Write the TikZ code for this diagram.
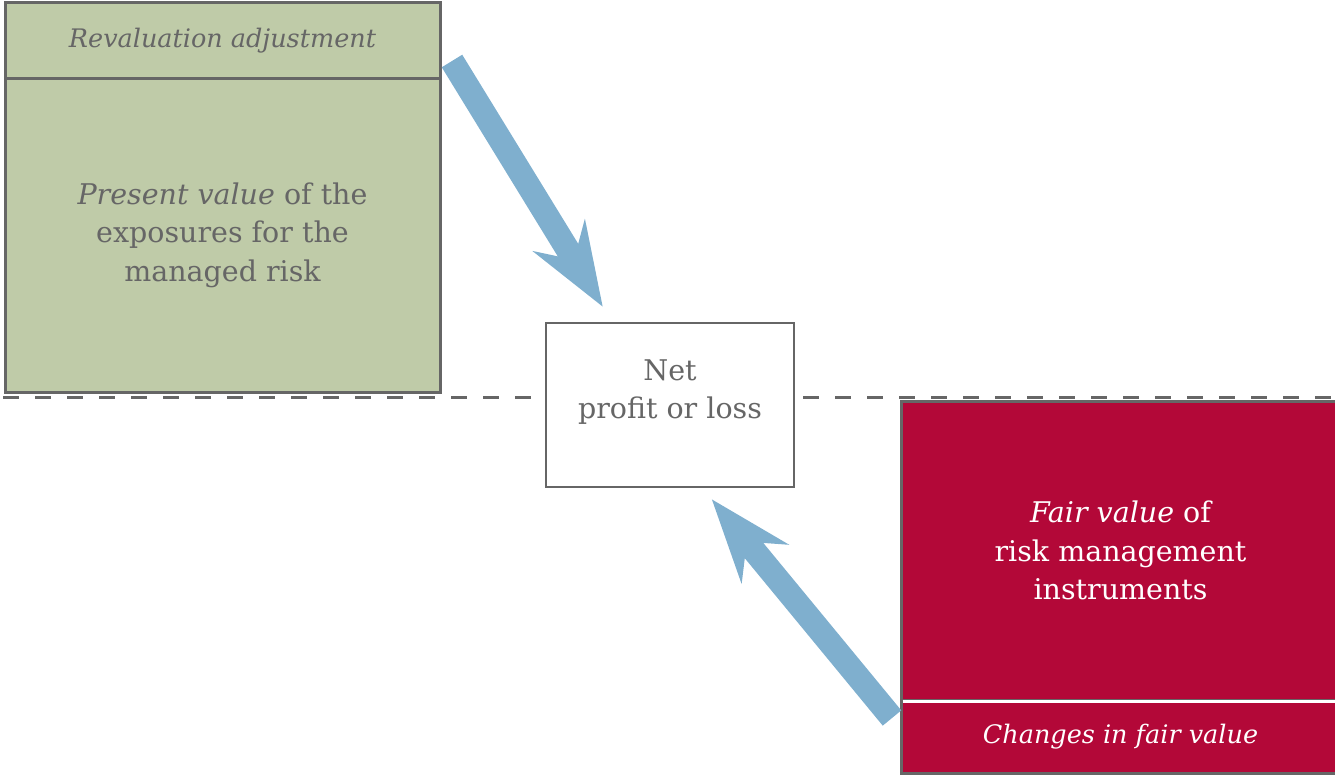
\documentclass[tikz,border=0pt]{standalone}
\usepackage{fontspec}
\setmainfont{DejaVu Serif}
\usetikzlibrary{arrows.meta,positioning}
\definecolor{sage}{HTML}{BFCBA8}
\definecolor{claret}{HTML}{B30838}
\definecolor{steel}{HTML}{7FAFCE}
\definecolor{slate}{HTML}{666666}
\newcommand{\bodyfont}{\fontsize{28.5}{38.5}\selectfont}
\newcommand{\capfont}{\fontsize{25.5}{38.5}\selectfont\itshape}
\begin{document}
\begin{tikzpicture}[x=1pt,y=-1pt,
	every node/.style={draw=slate,line width=3pt,rectangle,inner sep=0pt,align=center,font=\bodyfont},
	greenbox/.style={fill=sage,text=slate,minimum width=435pt},
	redbox/.style={fill=claret,text=white,minimum width=439pt},
	flow/.style={draw=steel,line width=24pt,-{Stealth[length=83pt,width=60pt,inset=28pt]}}]
	\useasboundingbox (0,0) rectangle (1335,776);
	% dashed split line
	\draw[slate,line width=3pt,dash pattern=on 16pt off 16pt] (3,397)--(1340,397);
	\node[greenbox,minimum height=75pt,font=\capfont] (reval) at (222.5,40.5){Revaluation adjustment};
	\node[greenbox,minimum height=314pt] (pv) at (222.5,235){\textit{Present value} of the\\exposures for the\\managed risk};
	\node[fill=white,line width=2.5pt,text=slate,minimum width=248pt,minimum height=164pt,text depth=32pt] (net) at (670,405){Net\\profit or loss};
	\node[redbox,minimum height=299pt] (fair) at (1120.5,550.5){\textit{Fair value} of\\risk management\\instruments};
	\node[redbox,minimum height=73pt,font=\capfont] (chg) at (1120.5,736.5){Changes in fair value};
	\draw[white,line width=2.5pt] ([xshift=3pt]fair.south west)--(fair.south east);
	\coordinate (src1) at (452,61);
	\coordinate (src2) at (892,718);
	\draw[flow] (src1)--([shift={(58,-15)}]net.north west);
	\draw[flow] (src2)--([shift={(167,11)}]net.south west);
	% \draw (pv.east)--(net);
\end{tikzpicture}
\end{document}
